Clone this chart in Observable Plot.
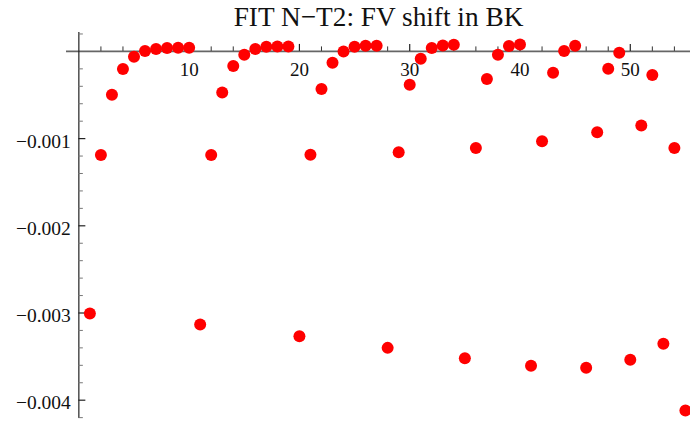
<!DOCTYPE html>
<html>
<head>
<meta charset="utf-8">
<script src="https://cdn.jsdelivr.net/npm/d3@7"></script>
<script src="https://cdn.jsdelivr.net/npm/@observablehq/plot@0.6"></script>
<style>
  html, body { margin: 0; padding: 0; background: #fff; }
  #chart svg { display: block; }
</style>
</head>
<body>
<div id="chart"></div>
<script>
const title = "FIT N\u2212T2: FV shift in BK";

const xs = d3.range(1, 56);
const values = [
  -0.003006, -0.001187, -0.000496, -0.000202, -0.000061, 0.000005, 0.000027, 0.000039, 0.000042, 0.000042,
  -0.003132, -0.001187, -0.000470, -0.000168, -0.000038, 0.000027, 0.000054, 0.000057, 0.000057,
  -0.003266, -0.001184, -0.000431, -0.000130, 0.000000, 0.000054, 0.000065, 0.000065,
  -0.003400, -0.001157, -0.000382, -0.000084, 0.000039, 0.000069, 0.000077,
  -0.003518, -0.001107, -0.000317, -0.000038, 0.000062, 0.000080,
  -0.003606, -0.001031, -0.000244, 0.000004, 0.000065,
  -0.003629, -0.000928, -0.000198, -0.000015,
  -0.003537, -0.000850, -0.000270,
  -0.003354, -0.001107,
  -0.004118
];

const xMajor = [10, 20, 30, 40, 50];
const xMinor = [2, 4, 6, 8, 12, 14, 16, 18, 22, 24, 26, 28, 32, 34, 36, 38, 42, 44, 46, 48, 52, 54];
const yMajor = [-0.001, -0.002, -0.003, -0.004];
const yMinor = [0.0002, -0.0002, -0.0004, -0.0006, -0.0008, -0.0012, -0.0014, -0.0016, -0.0018,
  -0.0022, -0.0024, -0.0026, -0.0028, -0.0032, -0.0034, -0.0036, -0.0038, -0.0042];

const data = xs.map((x, i) => ({x, y: values[i]}));
const font = "Liberation Serif, Times New Roman, serif";
const fmt = d3.format(".3f");

const chart = Plot.plot({
  width: 690,
  height: 423,
  marginLeft: 66,
  marginRight: 0,
  marginTop: 32,
  marginBottom: 5,
  style: {fontFamily: font, background: "#fff", overflow: "visible"},
  x: {domain: [-1.12, 55.46], axis: null},
  y: {domain: [-0.00421, 0.000217], axis: null},
  marks: [
    Plot.ruleY([0], {stroke: "#666", strokeWidth: 1.6}),
    Plot.ruleX([0], {stroke: "#222", strokeWidth: 1.2}),
    Plot.ruleX(xMajor, {x: d => d, y1: 0, y2: 0, insetBottom: 7, stroke: "#222", strokeWidth: 1.2}),
    Plot.ruleX(xMinor, {x: d => d, y1: 0, y2: 0, insetBottom: 4.5, stroke: "#333", strokeWidth: 1}),
    Plot.ruleY(yMajor, {y: d => d, x1: 0, x2: 0, insetRight: -7, stroke: "#222", strokeWidth: 1.2}),
    Plot.ruleY(yMinor, {y: d => d, x1: 0, x2: 0, insetRight: -4.5, stroke: "#777", strokeWidth: 1}),
    Plot.text(xMajor, {x: d => d, y: 0, text: d => String(d), lineAnchor: "top", dy: 11,
      fontSize: 19, fontFamily: font, fill: "#111"}),
    Plot.text(yMajor, {x: 0, y: d => d, text: d => fmt(d), textAnchor: "end", dx: -8, dy: 3,
      fontSize: 19.5, fontFamily: font, fill: "#111"}),
    Plot.dot(data, {x: "x", y: "y", r: 6, fill: "#ff0000", stroke: null}),
    Plot.text([title], {frameAnchor: "top", text: d => d, lineAnchor: "bottom", dy: -7, dx: 0,
      fontSize: 27.3, fontFamily: font, fill: "#111"})
  ]
});

document.getElementById("chart").appendChild(chart);
</script>
</body>
</html>
